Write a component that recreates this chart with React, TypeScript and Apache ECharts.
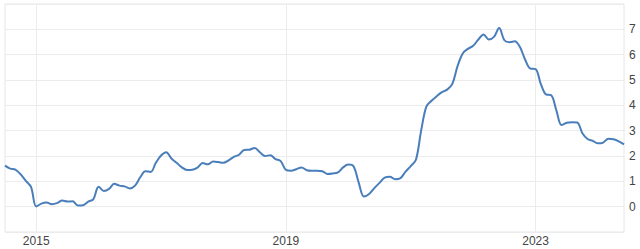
import React, { useEffect, useRef } from "react";
import * as echarts from "echarts";

const startYear = 2014;
const startMonth = 7; // July 2014
const values: number[] = [
  1.62, 1.5, 1.46, 1.28, 1.02, 0.78, 0.01, 0.12, 0.16, 0.1, 0.14, 0.24,
  0.2, 0.21, 0.05, 0.06, 0.2, 0.3, 0.79, 0.62, 0.7, 0.9, 0.83, 0.8,
  0.72, 0.83, 1.16, 1.4, 1.37, 1.73, 2.02, 2.15, 1.9, 1.73, 1.55, 1.45,
  1.46, 1.54, 1.72, 1.67, 1.78, 1.76, 1.73, 1.83, 1.97, 2.05, 2.24, 2.25,
  2.32, 2.15, 2.0, 2.03, 1.88, 1.8, 1.45, 1.42, 1.48, 1.55, 1.44, 1.42,
  1.42, 1.4, 1.29, 1.31, 1.35, 1.55, 1.66, 1.6, 0.95, 0.4, 0.5, 0.73,
  0.94, 1.15, 1.18, 1.08, 1.12, 1.38, 1.6, 1.85, 3.0, 3.95, 4.18, 4.36,
  4.52, 4.62, 4.85, 5.55, 6.05, 6.23, 6.35, 6.6, 6.8, 6.6, 6.7, 7.05,
  6.57, 6.49, 6.53, 6.3, 5.8, 5.45, 5.43, 4.85, 4.43, 4.4, 3.8, 3.22,
  3.31, 3.33, 3.32, 2.9, 2.67, 2.6, 2.5, 2.53, 2.68, 2.66, 2.58, 2.46,
];
const labeledYears = ["2015", "2019", "2023"];
const yMin = -1;
const yMax = 8;
const yLabelValues = [0, 1, 2, 3, 4, 5, 6, 7];

const categories: string[] = values.map((_, i) => {
  const m = startMonth - 1 + i;
  const y = startYear + Math.floor(m / 12);
  const mm = (m % 12) + 1;
  return `${y}-${String(mm).padStart(2, "0")}`;
});

const isLabeled = (idx: number) => {
  const c = categories[idx];
  return c.endsWith("-01") && labeledYears.includes(c.slice(0, 4));
};

export default function App() {
  const ref = useRef<HTMLDivElement>(null);
  useEffect(() => {
    if (!ref.current) return;
    const chart = echarts.init(ref.current, undefined, { renderer: "svg" });
    chart.setOption({
      animation: false,
      backgroundColor: "#ffffff",
      grid: {
        left: 5,
        right: 16,
        top: 4,
        bottom: 17,
        show: true,
        borderColor: "#e6e6e6",
        borderWidth: 1,
      },
      xAxis: {
        type: "category",
        data: categories,
        boundaryGap: false,
        axisLine: { show: false },
        axisTick: { show: false },
        axisLabel: {
          interval: (idx: number) => isLabeled(idx),
          formatter: (v: string) => v.slice(0, 4),
          color: "#444",
          fontFamily: "Liberation Sans, Arial, sans-serif",
          fontSize: 12,
          margin: 3,
        },
        splitLine: {
          show: true,
          interval: (idx: number) => isLabeled(idx),
          lineStyle: { color: "#ececec", width: 1 },
        },
      },
      yAxis: {
        type: "value",
        position: "right",
        min: yMin,
        max: yMax,
        interval: 1,
        axisLine: { show: false },
        axisTick: { show: false },
        axisLabel: {
          color: "#444",
          fontFamily: "Liberation Sans, Arial, sans-serif",
          fontSize: 12,
          margin: 5,
          formatter: (v: number) => (yLabelValues.includes(v) ? String(v) : ""),
        },
        splitLine: { show: true, lineStyle: { color: "#ececec", width: 1 } },
      },
      series: [
        {
          type: "line",
          data: values,
          smooth: 0.35,
          showSymbol: false,
          lineStyle: { color: "#4a7ebb", width: 2 },
          itemStyle: { color: "#4a7ebb" },
        },
      ],
    });
    return () => chart.dispose();
  }, []);
  return <div ref={ref} style={{ width: 640, height: 249, position: "absolute", left: 0, top: 0 }} />;
}
